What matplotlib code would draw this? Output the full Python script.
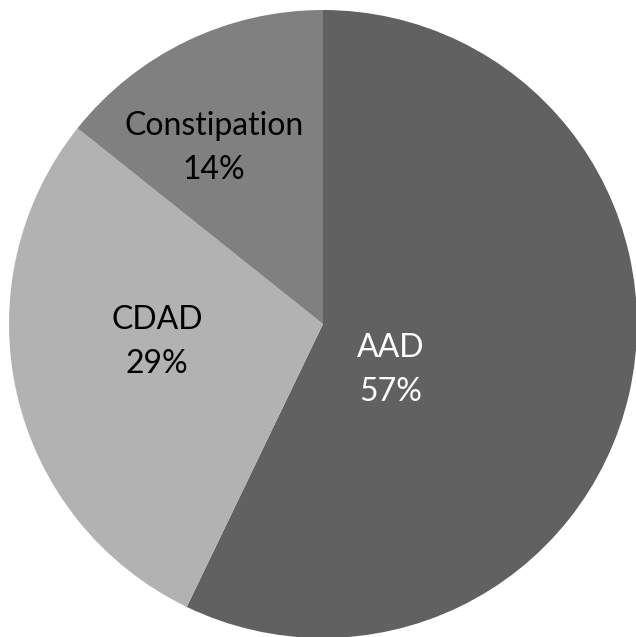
import matplotlib
matplotlib.use("Agg")
import matplotlib.pyplot as plt

categories = ["AAD", "CDAD", "Constipation"]
values = [4, 2, 1]
colors = ["#616161", "#b2b2b2", "#808080"]
text_colors = ["white", "black", "black"]
label_pos = [(391, 370), (157, 342), (214, 148)]  # pixel positions (x, y from top)

W, H = 636, 637
fig = plt.figure(figsize=(W / 100, H / 100), dpi=100)
ax = fig.add_axes([0, 0, 1, 1])

ax.pie(values, colors=colors, startangle=90, counterclock=False,
       center=(323, H - 324), radius=314, frame=True,
       wedgeprops=dict(linewidth=0))
ax.set_xlim(0, W)
ax.set_ylim(0, H)
ax.set_aspect("equal")
ax.axis("off")

total = sum(values)
for cat, v, tc, (x, y) in zip(categories, values, text_colors, label_pos):
    ax.text(x, H - y, f"{cat}\n{round(100 * v / total)}%", ha="center", va="center",
            color=tc, fontsize=23, family=["Lato", "DejaVu Sans"], linespacing=1.55)

fig.savefig("out.png", dpi=100)
